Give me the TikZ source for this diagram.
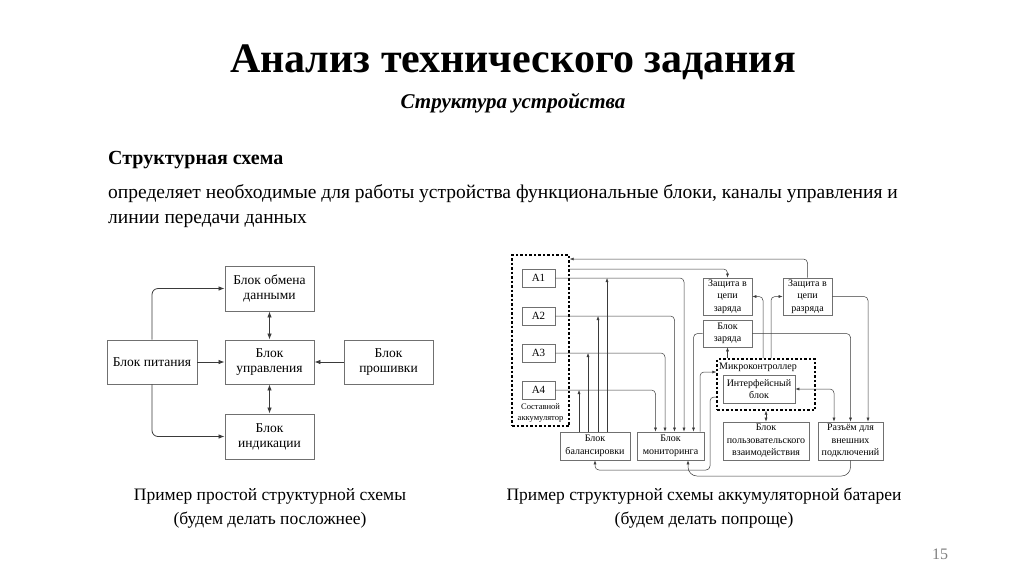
\documentclass[tikz,border=0pt]{standalone}
\usepackage{fontspec}
\setmainfont{Liberation Serif}
\usetikzlibrary{arrows.meta,positioning,calc}
\definecolor{boxgray}{HTML}{707070}
\definecolor{linegray}{HTML}{3A3A3A}

\begin{document}
\begin{tikzpicture}[x=1pt,y=-1pt,
  blk/.style={draw=boxgray,line width=0.9pt,align=center,inner sep=1pt,font=\fontsize{13.5}{15}\selectfont},
  sblk/.style={draw=boxgray,line width=0.8pt,align=center,inner sep=0.5pt,font=\fontsize{10}{12.5}\selectfont},
  grp/.style={draw=black,line width=1.4pt,dash pattern=on 2.5pt off 2pt},
  con/.style={draw=linegray,line width=0.8pt,rounded corners=6pt,>={Latex[length=6pt,width=4.5pt]}},
  scon/.style={draw=linegray,line width=0.5pt,rounded corners=4pt,>={Latex[length=4pt,width=3pt]}}]
\fill[white] (0,0) rectangle (1024,574);
\useasboundingbox (0,0) rectangle (1024,574);
% header
\node[anchor=base,font=\fontsize{42}{46}\selectfont\bfseries] (title) at (513,72) {Анализ технического задания};
\node[anchor=base,font=\fontsize{21}{25}\selectfont\bfseries\itshape] (sub) at (513,108) {Структура устройства};
\node[anchor=base west,inner sep=0,font=\fontsize{20}{24}\selectfont\bfseries] (head) at (108,164) {Структурная схема};
\node[anchor=base west,inner sep=0,font=\fontsize{19.5}{24}\selectfont] (def1) at (108,198) {определяет необходимые для работы устройства функциональные блоки, каналы управления и};
\node[anchor=base west,inner sep=0,font=\fontsize{19.5}{24}\selectfont] (def2) at (108,223) {линии передачи данных};

% simple scheme
\node[blk,minimum width=89,minimum height=45] (obmen) at (269.5,288.5) {Блок обмена\\данными};
\node[blk,minimum width=89,minimum height=44] (upr) at (269.5,362) {Блок\\управления};
\node[blk,minimum width=89,minimum height=45] (ind) at (269.5,436.5) {Блок\\индикации};
\node[blk,minimum width=90,minimum height=44] (pit) at (152,362) {Блок питания};
\node[blk,minimum width=89,minimum height=44] (prosh) at (388.5,362) {Блок\\прошивки};
\draw[con,->] (pit) -- (upr);
\draw[con,->] (prosh) -- (upr);
\draw[con,->] (pit.north) |- (obmen.west);
\draw[con,->] (pit.south) |- (ind.west);
\draw[con,<->] (obmen) -- (upr);
\draw[con,<->] (upr) -- (ind);

% battery scheme
\node[grp,minimum width=57,minimum height=171] (akk) at (540.5,340.5) {};
\foreach \i/\y in {1/278,2/316,3/353,4/390}
  \node[sblk,minimum width=33,minimum height=18,font=\fontsize{11}{12.5}\selectfont] (A\i) at (538.5,\y) {A\i};
\node[align=center,inner sep=0,font=\fontsize{8.5}{11.5}\selectfont] (akklbl) at (540.5,413) {Составной\\аккумулятор};
\node[sblk,minimum width=70,minimum height=28] (bal) at (595,446) {Блок\\балансировки};
\node[sblk,minimum width=67,minimum height=28] (mon) at (670.5,446) {Блок\\мониторинга};
\node[sblk,minimum width=49,minimum height=37] (zz) at (727.5,296.5) {Защита в\\цепи\\заряда};
\node[sblk,minimum width=49,minimum height=37] (zr) at (807.5,296.5) {Защита в\\цепи\\разряда};
\node[sblk,minimum width=49,minimum height=27] (bz) at (727.5,333.5) {Блок\\заряда};
\node[grp,minimum width=98,minimum height=51] (mk) at (766,384.5) {};
\node[font=\fontsize{10}{12.5}\selectfont] (mklbl) at (758,367.5) {Микроконтроллер};
\node[sblk,minimum width=72,minimum height=28] (ib) at (759,389) {Интерфейсный\\блок};
\node[sblk,minimum width=86,minimum height=38] (pv) at (766,441) {Блок\\пользовательского\\взаимодействия};
\node[sblk,minimum width=65,minimum height=38] (rz) at (850.5,441) {Разъём для\\внешних\\подключений};

\coordinate (ya) at (0,259);
\coordinate (yb) at (0,269);
\coordinate (yc) at (0,372);
\coordinate (yd) at (0,397);
\coordinate (loopb) at (710,470);
\coordinate (loopr) at (0,476);
\draw[scon,->] (zr.north) |- (akk.east |- ya);
\draw[scon,->] (akk.east |- yb) -| (zz.north);
\foreach \i/\dx in {1/13.5,2/4,3/-5.5,4/-15}
  \draw[scon,->] (A\i.east) -| ([xshift=\dx pt]mon.north);
\foreach \i/\dx in {1/12,2/3,3/-7,4/-16}{
  \coordinate (b\i) at ([xshift=\dx pt]bal.north);
  \draw[scon,->] (b\i) -- (b\i |- A\i.east);
}
\draw[scon,->] (bz.west) -| ([xshift=23pt]mon.north);
\coordinate (m0) at ([xshift=29.5pt]mon.north);
\draw[scon,->] (m0) |- (mk.west |- yc);
\draw[scon,->] (mk.west |- yd) -| (loopb) -| (bal.south);
\coordinate (m5) at ([xshift=17.5pt]mon.south);
\draw[scon,->,rounded corners=9pt] (rz.south) |- (m5 |- loopr) -- (m5);
\coordinate (k1) at ([xshift=-3pt]mk.north);
\coordinate (k2) at ([xshift=5pt]mk.north);
\draw[scon,->] (k1) |- (zz.east);
\draw[scon,->] (k2) |- (zr.west);
\draw[scon,->] (mk.north -| bz.south) -- (bz.south);
\draw[scon,->] (bz.east) -| (rz.north);
\draw[scon,->] (zr.east) -| ([xshift=17.5pt]rz.north);
\draw[scon,<->] (ib.east) -| ([xshift=-16.5pt]rz.north);
\draw[scon,<->] (mk.south) -- (pv.north);

% captions
\node[anchor=base,font=\fontsize{17.5}{21}\selectfont] (cap1) at (270,500) {Пример простой структурной схемы};
\node[anchor=base,font=\fontsize{17.5}{21}\selectfont] (cap1b) at (270,524) {(будем делать посложнее)};
\node[anchor=base,font=\fontsize{17.5}{21}\selectfont] (cap2) at (704,500) {Пример структурной схемы аккумуляторной батареи};
\node[anchor=base,font=\fontsize{17.5}{21}\selectfont] (cap2b) at (704,524) {(будем делать попроще)};
\node[anchor=base,font=\fontsize{16}{16}\selectfont,text=gray] (pgno) at (940,559) {15};
\end{tikzpicture}
\end{document}
